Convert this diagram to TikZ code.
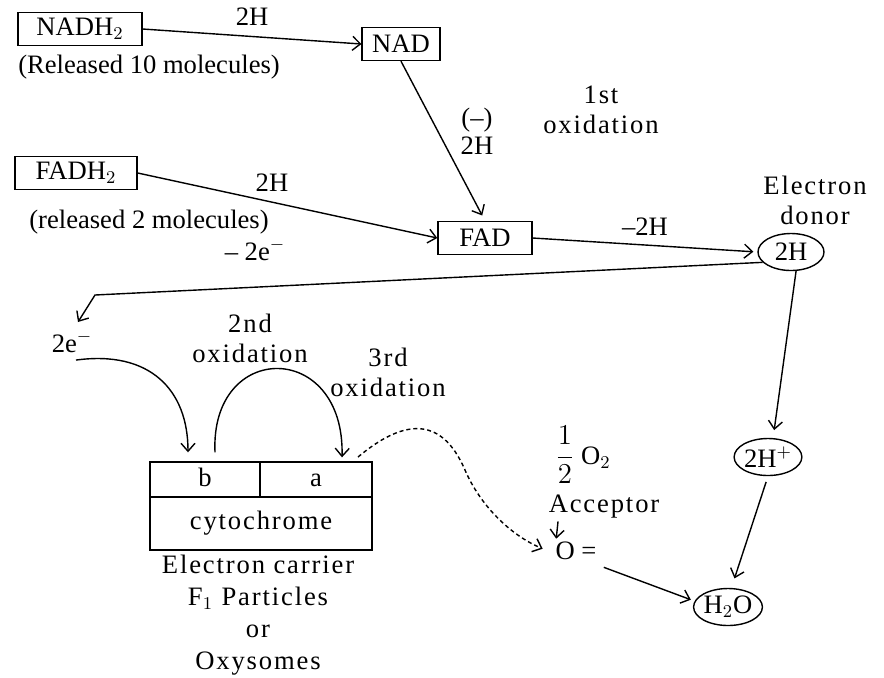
\documentclass[tikz,border=0pt]{standalone}
\usepackage{fontspec}
\setmainfont{Liberation Serif}
\newfontfamily\spfont[LetterSpace=7]{Liberation Serif}
\usetikzlibrary{arrows.meta,shapes.geometric}

\tikzset{
  caja/.style={draw, rectangle, inner xsep=5pt, inner ysep=1pt, minimum height=16.5pt},
  ovalo/.style={draw, ellipse, inner sep=0pt, minimum width=33pt, minimum height=18.5pt},
  celda/.style={draw, rectangle, inner sep=0pt},
  etiq/.style={font=\fontsize{13.3}{15}\spfont, align=center, inner sep=1pt},
  flecha/.style={-{Straight Barb[length=4pt,width=7pt]}},
  punteado/.style={dash pattern=on 2pt off 1.5pt},
}

\begin{document}
\begin{tikzpicture}[x=0.5pt, y=-0.5pt, line width=0.7pt, font=\fontsize{13.3}{14.5}\selectfont]
    \useasboundingbox (0,0) rectangle (884,677);

    % NADH2 y NAD
    \node[caja, minimum width=62pt] (nadh) at (80,29) {NADH$_2$};
    \node (nadrel) at (149,67) {(Released 10 molecules)};
    \node[caja] (nad) at (401,44) {NAD};
    \draw[flecha] (nadh.east) -- (nad.west) node[midway, above=2pt] {2H};

    % FADH2 y FAD
    \node[caja, minimum width=61pt] (fadh) at (76,173) {FADH$_2$};
    \node (fadrel) at (149,222) {(released 2 molecules)};
    \node[caja, minimum width=47pt] (fad) at (485,238) {FAD};
    \draw[flecha] (fadh.east) -- (fad.west);
    \node (lblfadh) at (272,183) {2H};
    \draw[flecha, shorten >=3pt] (nad.south) -- (fad.north);
    \node[align=center, font=\fontsize{13.3}{14}\selectfont] (lblnad) at (477,131) {(--)\\2H};
    \node[etiq] (primera) at (601,110) {1st\\oxidation};

    % Donador de electrones
    \node[ovalo] (dosH) at (791,252) {2H};
    \node[etiq] (donor) at (815,200) {Electron\\donor};
    \draw[flecha, shorten >=2pt] (fad.east) -- (dosH.west) node[midway, above=1pt] {--2H};

    % Salida de electrones
    \node (dose) at (72,342) {2e$^-$};
    \coordinate (codo) at (95,295);
    \coordinate (puntae) at (78,322);
    \draw[flecha] (dosH.200) -- (codo) -- (puntae);
    \node (lbldose) at (255,250) {-- 2e$^-$};

    % Citocromo
    \node[celda, minimum width=55pt, minimum height=17.5pt, text height=8pt, text depth=1pt] (cytb) at (205,479.5) {b};
    \node[celda, minimum width=56pt, minimum height=17.5pt, text height=8pt, text depth=1pt] (cyta) at (316,479.5) {a};
    \node[celda, minimum width=111pt, minimum height=26.5pt, font=\fontsize{13.3}{15}\spfont] (cyto) at (261,523.5) {cytochrome};
    \node[etiq, font=\fontsize{13.3}{16}\spfont] (carrier) at (258,615) {Electron carrier\\F$_1$ Particles\\or\\Oxysomes};

    % Segunda y tercera oxidacion
    \node[etiq] (segunda) at (250,338) {2nd\\oxidation};
    \node[etiq] (tercera) at (388,372) {3rd\\oxidation};
    \draw[flecha] ([xshift=2pt]dose.south) .. controls (150,350) and (188,390) .. ([shift={(-17,-9)}]cytb.north);
    \draw[flecha] ([shift={(10,-9)}]cytb.north) .. controls (210,340) and (345,340) .. ([shift={(26,-4)}]cyta.north);

    % Aceptor de oxigeno
    \node[inner sep=0pt] (medio) at (583,455) {$\displaystyle\frac{1}{2}$ O$_2$};
    \node[etiq, inner sep=0pt] (accep) at (604,507) {Acceptor};
    \node (oxy) at (576,551) {O =};
    \draw[flecha] ([xshift=5pt, yshift=-1pt]accep.south west) -- ([xshift=4pt, yshift=-2pt]oxy.north west);
    \coordinate (punteo) at (358,457);
    \draw[punteado, flecha, shorten >=3pt] (punteo) .. controls (400,422) and (440,412) .. (465,470)
        .. controls (480,505) and (510,535) .. (oxy.west);

    % Protones y agua
    \node[ovalo] (dosHp) at (768,457) {2H$^+$};
    \node[ovalo] (agua) at (728,607) {H$_2$O};
    \draw[flecha, shorten >=4pt] (dosH.285) -- (dosHp.75);
    \draw[flecha, shorten <=3pt, shorten >=5pt] (dosHp.south) -- (agua.80);
    \draw[flecha, shorten >=2pt] (oxy.south east) -- (agua.170);
\end{tikzpicture}
\end{document}
